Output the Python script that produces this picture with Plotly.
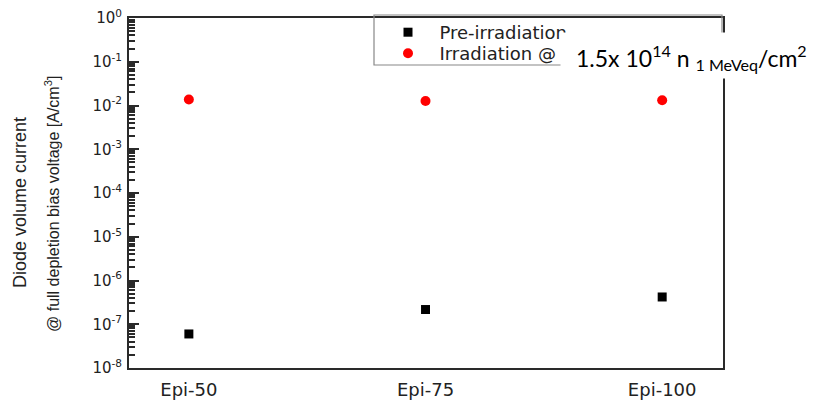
import plotly.graph_objects as go

# Diode samples and measured volume current at full depletion bias [A/cm^3]
samples = ["Epi-50", "Epi-75", "Epi-100"]
pre_irradiation = [6.0e-8, 2.17e-7, 4.2e-7]
irradiated = [1.37e-2, 1.27e-2, 1.32e-2]

decades = list(range(-8, 1))
y_tickvals = [10.0 ** d for d in decades]
y_ticktext = [f"10<sup>{d}</sup>" for d in decades]
minor_vals = [k * 10.0 ** d for d in decades[:-1] for k in range(2, 10)]

W, H = 817, 400
L, R, T, B = 129, 723, 18, 368


def px_x(px):
    return (px - L) / (R - L)


def px_y(py):
    return (B - py) / (B - T)


AX_COLOR = "#2a2a2a"
TXT_COLOR = "#222222"
FONT = "Arial, Liberation Sans, sans-serif"
WIDE_FONT = "DejaVu Sans, Verdana, sans-serif"

fig = go.Figure()
fig.add_trace(go.Scatter(
    x=samples, y=pre_irradiation, mode="markers",
    name="\u00a0\u00a0Pre-irradiation", legend="legend",
    marker=dict(symbol="square", size=9, color="black"),
))
fig.add_trace(go.Scatter(
    x=samples, y=irradiated, mode="markers",
    name="\u00a0\u00a0Irradiation @", legend="legend2",
    marker=dict(symbol="circle", size=10, color="#ff0000"),
))

legend_style = dict(
    xanchor="left", yanchor="top", bgcolor="rgba(0,0,0,0)", borderwidth=0,
    font=dict(size=18, family=WIDE_FONT, color=TXT_COLOR),
)

fig.update_layout(
    width=W, height=H,
    margin=dict(l=L, r=W - R, t=T, b=H - B, pad=0, autoexpand=False),
    paper_bgcolor="white", plot_bgcolor="white",
    font=dict(family=FONT, color=TXT_COLOR),
    showlegend=True,
    legend=dict(x=px_x(388), y=px_y(14), **legend_style),
    legend2=dict(x=px_x(388), y=px_y(35), **legend_style),
    xaxis=dict(
        type="category", range=[-0.253, 2.257], automargin=False,
        showline=True, mirror=True, linecolor=AX_COLOR, linewidth=2,
        ticks="", showgrid=False, zeroline=False, ticklabelstandoff=4,
        tickfont=dict(size=18, family=WIDE_FONT, color=TXT_COLOR),
    ),
    yaxis=dict(
        type="log", range=[-8, 0], automargin=False,
        tickmode="array", tickvals=y_tickvals, ticktext=y_ticktext,
        showline=True, mirror=True, linecolor=AX_COLOR, linewidth=2,
        ticks="inside", ticklen=10, tickwidth=2, tickcolor=AX_COLOR,
        showgrid=False, zeroline=False, ticklabelstandoff=2,
        tickfont=dict(size=15, family=WIDE_FONT, color=TXT_COLOR),
    ),
    # overlay axis carrying only the minor log ticks
    yaxis2=dict(
        type="log", range=[-8, 0], overlaying="y", side="left",
        automargin=False, tickmode="array", tickvals=minor_vals,
        ticks="inside", ticklen=6, tickwidth=1.5, tickcolor=AX_COLOR,
        showticklabels=False, showgrid=False, zeroline=False, showline=False,
    ),
)

# invisible trace binding the minor-tick axis
fig.add_trace(go.Scatter(
    x=samples, y=irradiated, yaxis="y2", mode="markers",
    marker=dict(opacity=0), showlegend=False, hoverinfo="skip",
))

# legend frame
fig.add_shape(
    type="rect", xref="paper", yref="paper",
    x0=px_x(374), x1=px_x(722), y0=px_y(65), y1=px_y(15),
    line=dict(color="#888888", width=1.2), fillcolor="rgba(0,0,0,0)",
    layer="above",
)

# two-line y-axis title
fig.add_annotation(
    text="Diode volume current", textangle=-90,
    xref="paper", yref="paper", x=px_x(20), y=px_y(203),
    xanchor="center", yanchor="middle", showarrow=False,
    font=dict(size=18, family=FONT, color=TXT_COLOR),
)
fig.add_annotation(
    text="@ full depletion bias voltage [A/cm<sup>3</sup>]", textangle=-90,
    xref="paper", yref="paper", x=px_x(52), y=px_y(204),
    xanchor="center", yanchor="middle", showarrow=False,
    font=dict(size=16, family=FONT, color=TXT_COLOR),
)

# fluence label on a white box
fig.add_annotation(
    text="\u00a0", xref="paper", yref="paper",
    x=px_x(560), y=px_y(32), xanchor="left", yanchor="top",
    width=257, height=45, borderpad=0, bgcolor="white",
    showarrow=False,
)
fig.add_annotation(
    text="1.5x 10<sup>14</sup> n <sub>1 MeVeq</sub>/cm<sup>2</sup>",
    xref="paper", yref="paper",
    x=px_x(574), y=px_y(57), xanchor="left", yanchor="middle",
    showarrow=False,
    font=dict(size=23, family="Lato, Open Sans, sans-serif", color="black"),
)

fig.write_html("out.html")
